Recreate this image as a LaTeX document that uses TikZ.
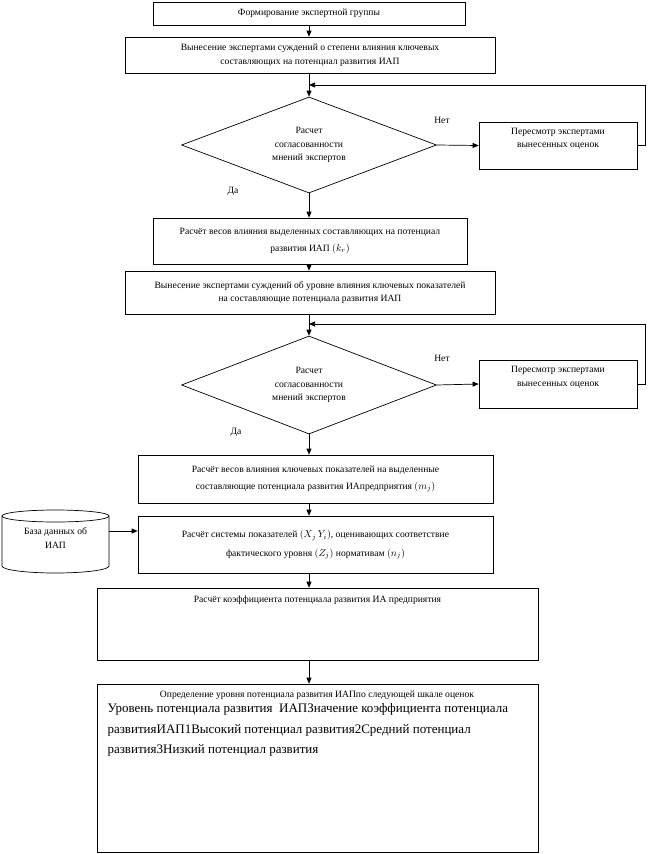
\documentclass[tikz,border=0pt]{standalone}
\usepackage{fontspec}
\setmainfont{Liberation Serif}
\usetikzlibrary{arrows.meta,shapes.geometric}
\begin{document}
\begin{tikzpicture}[x=1pt,y=-1pt,
  txt/.style={font=\fontsize{9.6}{13.5}\selectfont},
  box/.style={draw, line width=0.7pt, align=center, inner sep=2pt, txt},
  dia/.style={draw, diamond, shape aspect=2.65, line width=0.7pt, inner sep=0pt, align=center, txt},
  arr/.style={-{Triangle[length=6pt,width=5pt]}, line width=0.7pt},
  big/.style={font=\fontsize{13}{20.5}\selectfont}]
\useasboundingbox (0,0) rectangle (650,854);
% main column
\node[box, minimum width=312pt, minimum height=23pt] (b1) at (309,13.5) {Формирование экспертной группы};
\node[box, minimum width=370pt, minimum height=36pt] (b2) at (310,55) {Вынесение экспертами суждений о степени влияния ключевых\\составляющих на потенциал развития ИАП};
\node[dia, minimum width=255pt, minimum height=96pt] (d1) at (309,145) {Расчет\\согласованности\\мнений экспертов};
\node[draw, line width=0.7pt, minimum width=158pt, minimum height=47pt] (r1) at (558,145.5) {};
\node[txt, align=center] (r1t) at (558,139) {Пересмотр экспертами\\вынесенных оценок};
\node[box, minimum width=314pt, minimum height=46pt] (b4) at (310,241) {Расчёт весов влияния выделенных составляющих на потенциал\\[3pt]развития ИАП $(k_r)$};
\node[box, minimum width=370pt, minimum height=43pt] (b5) at (310,292.5) {Вынесение экспертами суждений об уровне влияния ключевых показателей\\на составляющие потенциала развития ИАП};
\node[dia, minimum width=255pt, minimum height=98pt] (d2) at (309,385) {Расчет\\согласованности\\мнений экспертов};
\node[draw, line width=0.7pt, minimum width=158pt, minimum height=48pt] (r2) at (558,384) {};
\node[txt, align=center] (r2t) at (558,377.5) {Пересмотр экспертами\\вынесенных оценок};
\node[box, minimum width=355pt, minimum height=48pt] (b7) at (315.5,479) {Расчёт весов влияния ключевых показателей на выделенные\\[3pt]составляющие потенциала развития ИАпредприятия $(m_j)$};
\node[box, minimum width=355pt, minimum height=57pt] (b8) at (315.5,544.5) {Расчёт системы показателей $(X_j\,Y_i)$, оценивающих соответствие\\[5pt]фактического уровня $(Z_j)$ нормативам $(n_j)$};
\node[draw, line width=0.7pt, minimum width=441pt, minimum height=72pt] (b9) at (317.5,624) {};
\node[txt, anchor=north] (b9t) at (317.5,592) {Расчёт коэффициента потенциала развития ИА предприятия};
\node[draw, line width=0.7pt, minimum width=441pt, minimum height=168pt] (b10) at (317.5,768) {};
\node[txt, anchor=north] (b10t) at (317,687) {Определение уровня потенциала развития ИАПпо следующей шкале оценок};
\node[big, anchor=north west, align=left] (b10b) at (104,700) {Уровень потенциала развития \ ИАПЗначение коэффициента потенциала\\развитияИАП1Высокий потенциал развития2Средний потенциал\\развития3Низкий потенциал развития};
% database cylinder
\draw[line width=0.7pt] (2,516) -- (2,566) arc[start angle=180, end angle=360, x radius=53.5, y radius=-7] -- (109,516);
\draw[line width=0.7pt] (55.5,516) ellipse[x radius=53.5, y radius=6];
\node[txt, align=center] (db) at (55.5,538) {База данных об\\ИАП};
\coordinate (dbr) at (109,531);
% junctions of the return loops
\coordinate (j1) at (309,85);
\coordinate (j2) at (309,324);
% connectors
\draw[arr] (b1.south -| d1.north) -- (b2.north -| d1.north);
\draw[arr] (b2.south -| d1.north) -- (d1.north);
\draw[arr] (d1.east) -- (r1.west);
\draw[arr] (r1.east) -- ++(8,0) |- (j1);
\draw[arr] (d1.south) -- (b4.north -| d1.south);
\draw[arr] (b4.south -| d1.south) -- (b5.north -| d1.south);
\draw[arr] (b5.south -| d2.north) -- (d2.north);
\draw[arr] (d2.east) -- (r2.west);
\draw[arr] (r2.east) -- ++(8,0) |- (j2);
\draw[arr] (d2.south) -- (b7.north -| d2.south);
\draw[arr] (b7.south -| d2.south) -- (b8.north -| d2.south);
\draw[arr] (b8.south -| d2.south) -- (b9.north -| d2.south);
\draw[arr] (b9.south -| d2.south) -- (b10.north -| d2.south);
\draw[arr] (dbr) -- (dbr -| b8.west);
% labels
\node[txt] (n1) at (442,120) {Нет};
\node[txt] (y1) at (233,191) {Да};
\node[txt] (n2) at (442,358) {Нет};
\node[txt] (y2) at (236,432) {Да};
\end{tikzpicture}
\end{document}
